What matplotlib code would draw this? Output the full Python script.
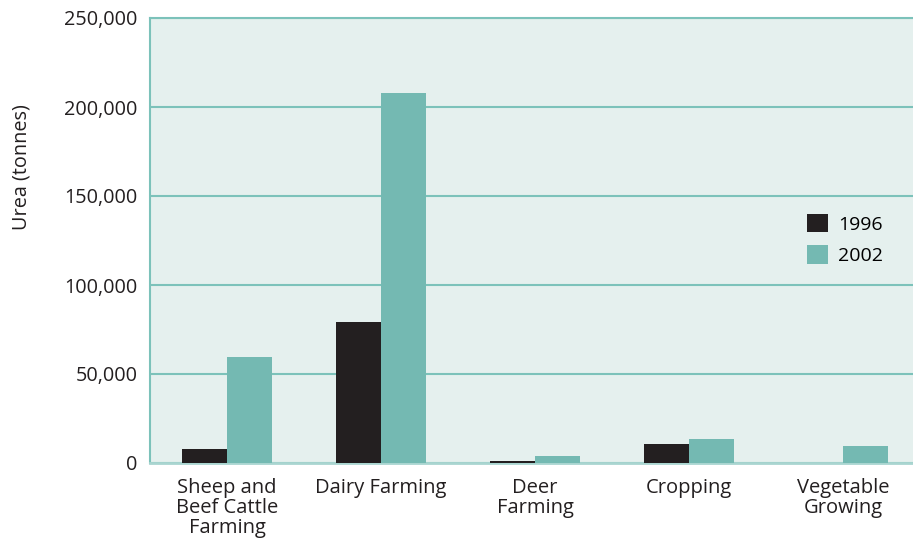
import matplotlib
matplotlib.use("Agg")
import matplotlib.pyplot as plt
import numpy as np

categories = ["Sheep and\nBeef Cattle\nFarming", "Dairy Farming", "Deer\nFarming", "Cropping", "Vegetable\nGrowing"]
series_names = ["1996", "2002"]
values_1996 = [8000, 79200, 1100, 10500, 0]
values_2002 = [59500, 207800, 3900, 13500, 9500]
yticks = [0, 50000, 100000, 150000, 200000, 250000]
ytick_labels = ["0", "50,000", "100,000", "150,000", "200,000", "250,000"]

plt.rcParams['font.family'] = ['Open Sans', 'DejaVu Sans']

W, H = 913, 543
fig = plt.figure(figsize=(W / 100, H / 100), dpi=100)
left, right, top, bottom = 150, 920, 18, 463
ax = fig.add_axes([left / W, 1 - bottom / H, (right - left) / W, (bottom - top) / H])

bg = "#E5F0EE"
grid_c = "#7CC2BA"
c1996 = "#231F20"
c2002 = "#74B9B2"
txt = "#231F20"
fs = 14.5

ax.set_facecolor(bg)
x = np.arange(len(categories))
bw = 0.29
ax.bar(x - bw / 2, values_1996, width=bw, color=c1996, label=series_names[0], zorder=3)
ax.bar(x + bw / 2, values_2002, width=bw, color=c2002, label=series_names[1], zorder=3)

ax.set_xlim(-0.5, len(categories) - 0.5)
ax.set_ylim(0, 250000)
ax.set_yticks(yticks)
ax.set_yticklabels(ytick_labels, fontsize=14.3, color=txt)
ax.set_xticks(x)
ax.set_xticklabels(categories, fontsize=fs, color=txt, linespacing=1.0)
ax.tick_params(axis="x", length=0, pad=11)
ax.tick_params(axis="y", length=0, pad=9)
ax.yaxis.grid(True, color=grid_c, linewidth=1.5, zorder=1)
ax.set_axisbelow(True)
ax.spines["right"].set_visible(False)
ax.spines["left"].set_color(grid_c)
ax.spines["left"].set_linewidth(1.5)
ax.spines["top"].set_color(grid_c)
ax.spines["top"].set_linewidth(1.5)
ax.spines["bottom"].set_color("#A9D5D0")
ax.spines["bottom"].set_linewidth(2)

fig.text(22 / W, 1 - 167 / H, "Urea (tonnes)", rotation=90, ha="center", va="center",
         fontsize=14.3, color=txt)

leg = ax.legend(loc="upper left", bbox_to_anchor=(797 / W, 1 - 204 / H), bbox_transform=fig.transFigure,
                frameon=False, fontsize=14, handlelength=1.1, handleheight=1.1, handletextpad=0.5,
                labelspacing=0.6, borderpad=0)

fig.savefig("out.png", dpi=100)
